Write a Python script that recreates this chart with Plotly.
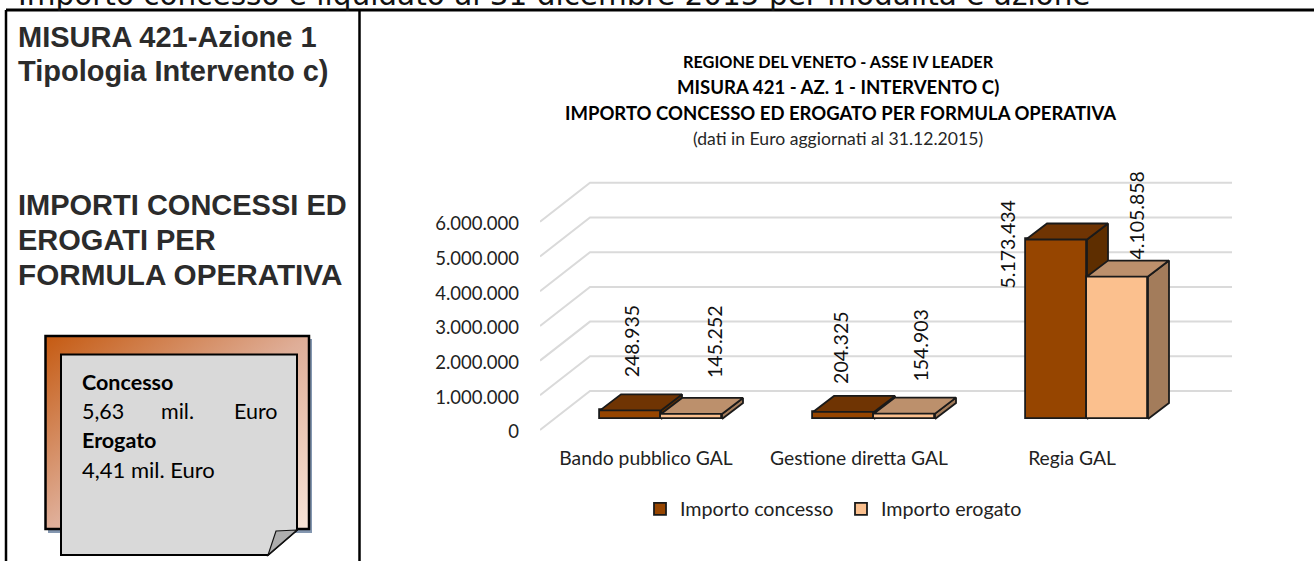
import urllib.parse
import plotly.graph_objects as go

# ---------- data ----------
categories = ["Bando pubblico GAL", "Gestione diretta GAL", "Regia GAL"]
series_names = ["Importo concesso", "Importo erogato"]
importo_concesso = [248935, 204325, 5173434]
importo_erogato = [145252, 154903, 4105858]
y_ticks = [0, 1000000, 2000000, 3000000, 4000000, 5000000, 6000000]
title_lines = [
    "REGIONE DEL VENETO - ASSE IV LEADER",
    "MISURA 421 - AZ. 1 - INTERVENTO C)",
    "IMPORTO CONCESSO ED EROGATO PER FORMULA OPERATIVA",
    "(dati in Euro aggiornati al 31.12.2015)",
]

# ---------- geometry of the fake-3D plot (pixels) ----------
W, H = 1314, 561
CHART_FONT = "Lato"
PLOT_L, PLOT_R, PLOT_T, PLOT_B = 540, 1240, 160, 440
CAT_X0, CAT_STEP = 661, 213          # pixel centre of the first cluster, spacing
ZERO_Y, PX_PER_M = 430, 34.7         # pixel of value 0, pixels per million
ux = 1 / CAT_STEP                    # x data units per pixel
uy = 1e6 / PX_PER_M                  # y data units per pixel
BAR_W = 61 * ux
BAR_BASE = 11 * uy                   # bars stand a little behind the front edge
BAR_DX, BAR_DY = 21 * ux, 16 * uy    # depth of a bar
WALL_DX, WALL_DY = 50 * ux, 39 * uy  # depth of the floor
WALL_END = (1232 - PLOT_L) * ux

x_range = [(PLOT_L - CAT_X0) * ux, (PLOT_R - CAT_X0) * ux]
y_range = [(ZERO_Y - PLOT_B) * uy, (ZERO_Y - PLOT_T) * uy]
x_left = x_range[0]

DARK = dict(front="#964500", top="#6F3403", side="#5E2E00")
LIGHT = dict(front="#FBC08E", top="#BC906C", side="#A37C5B")
EDGE = "#1a1a1a"
EDGE_W = 1.8
positions = list(range(len(categories)))

fig = go.Figure()


def px(x):
    return x / W


def py(y):
    return 1 - y / H


# floor / wall grid lines (main subplot, painted first)
for v in y_ticks:
    fig.add_trace(go.Scatter(
        x=[x_left, x_left + WALL_DX, x_left + WALL_END],
        y=[v, v + WALL_DY, v + WALL_DY],
        mode="lines", line=dict(color="#DADADA", width=2),
        hoverinfo="skip", showlegend=False))


def faces(values, offset_sign, colors, xa, ya):
    for p, v in zip(positions, values):
        x0 = p - BAR_W if offset_sign < 0 else p
        x1 = x0 + BAR_W
        y0 = BAR_BASE
        y1 = BAR_BASE + v
        fig.add_trace(go.Scatter(
            x=[x1, x1 + BAR_DX, x1 + BAR_DX, x1, x1],
            y=[y0, y0 + BAR_DY, y1 + BAR_DY, y1, y0],
            mode="lines", fill="toself", fillcolor=colors["side"],
            line=dict(color=EDGE, width=EDGE_W), hoverinfo="skip",
            showlegend=False, xaxis=xa, yaxis=ya))
        fig.add_trace(go.Scatter(
            x=[x0, x0 + BAR_DX, x1 + BAR_DX, x1, x0],
            y=[y1, y1 + BAR_DY, y1 + BAR_DY, y1, y1],
            mode="lines", fill="toself", fillcolor=colors["top"],
            line=dict(color=EDGE, width=EDGE_W), hoverinfo="skip",
            showlegend=False, xaxis=xa, yaxis=ya))


# each series sits in its own overlaying subplot so the paint order is
# grid -> first series -> second series
faces(importo_concesso, -1, DARK, "x2", "y2")
fig.add_trace(go.Bar(
    name=series_names[0], x=[p - BAR_W / 2 for p in positions], y=importo_concesso,
    base=BAR_BASE, width=BAR_W, marker=dict(color=DARK["front"], line=dict(color=EDGE, width=EDGE_W)),
    xaxis="x2", yaxis="y2"))

faces(importo_erogato, 1, LIGHT, "x3", "y3")
fig.add_trace(go.Bar(
    name=series_names[1], x=[p + BAR_W / 2 for p in positions], y=importo_erogato,
    base=BAR_BASE, width=BAR_W, marker=dict(color=LIGHT["front"], line=dict(color=EDGE, width=EDGE_W)),
    xaxis="x3", yaxis="y3"))

annotations = []


def note(text, x, y, size, color="#000000", bold=False, family=CHART_FONT, xanchor="left", yanchor="middle"):
    annotations.append(dict(
        text=f"<b>{text}</b>" if bold else text, x=px(x), y=py(y),
        xref="paper", yref="paper", xanchor=xanchor, yanchor=yanchor, showarrow=False,
        font=dict(family=family, size=size, color=color)))


# rotated value labels: pixel shift from the top of the front face of each bar
label_shift = [(0.5, 31), (23.5, 34), (-2.5, 26), (16.5, 30), (-49.5, -51), (19.5, 15)]
all_labels = [
    (p + s * BAR_W / 2, v)
    for p, a, b in zip(positions, importo_concesso, importo_erogato)
    for s, v in ((-1, a), (1, b))
]
for (xv, v), (dx, dy) in zip(all_labels, label_shift):
    annotations.append(dict(
        text=f"{v:,}".replace(",", "."), x=xv, y=BAR_BASE + v, xref="x", yref="y",
        xanchor="center", yanchor="bottom", textangle=-90, showarrow=False,
        xshift=dx, yshift=dy, font=dict(family=CHART_FONT, size=19.5, color="#111111")))

# chart titles
note(title_lines[0], 838, 62, 16.3, bold=True, xanchor="center")
note(title_lines[1], 838, 87, 18.6, bold=True, xanchor="center")
note(title_lines[2], 840, 113, 18.5, bold=True, xanchor="center")
note(title_lines[3], 838, 138, 17.6, color="#262626", xanchor="center")

# page heading and left panel text
note("Importo concesso e liquidato al 31 dicembre 2015 per modalità e azione", 16, -5, 29.5,
     family="DejaVu Sans", color="#111111")
ARIAL = "Liberation Sans"
for t, y, size in (("MISURA 421-Azione 1", 37, 29), ("Tipologia Intervento c)", 71, 29),
                   ("IMPORTI CONCESSI ED", 205, 29), ("EROGATI PER", 240, 29),
                   ("FORMULA OPERATIVA", 274, 29.7)):
    note(t, 16, y, size, color="#2b2b2b", bold=True, family=ARIAL)
note("Concesso", 80, 382, 21.5, bold=True)
note("5,63", 80, 411, 21.5)
note("mil.", 159, 411, 21.5)
note("Euro", 232, 411, 21.5)
note("Erogato", 80, 440, 21.5, bold=True)
note("4,41 mil. Euro", 80, 469, 22)

# decorations of the left panel
shapes = []


def line(x0, y0, x1, y1, width=2.5):
    shapes.append(dict(type="line", xref="paper", yref="paper", x0=px(x0), y0=py(y0), x1=px(x1), y1=py(y1),
                       line=dict(color="#000000", width=width)))


def poly(points, fill, edge=None, width=0):
    path = "M " + " L ".join(f"{px(x)},{py(y)}" for x, y in points) + " Z"
    shapes.append(dict(type="path", xref="paper", yref="paper", path=path, fillcolor=fill,
                       line=dict(color=edge or "rgba(0,0,0,0)", width=width)))


line(6, 10, W, 10, 3)
line(6, 10, 6, H)
line(359.5, 10, 359.5, H)

# shadow, gradient frame outline, page with folded corner
poly([(312, 339), (312, 533), (48, 533), (48, 529), (309, 529), (309, 339)], "#8497B0")
poly([(45.5, 336), (309, 336), (309, 529), (45.5, 529)], "rgba(0,0,0,0)", "#000000", 2.5)
poly([(61, 354.5), (297, 354.5), (297, 530), (268, 555), (61, 555)], "#D9D9D9", "#000000", 2)
poly([(297, 530), (276, 531), (268, 555)], "#AEAEAE", "#111111", 1.2)

svg = ("<svg xmlns='http://www.w3.org/2000/svg' width='264' height='193'>"
       "<defs><linearGradient id='g' x1='0' y1='0' x2='1' y2='1'>"
       "<stop offset='0' stop-color='#C55A11'/><stop offset='0.5' stop-color='#DFAE98'/>"
       "<stop offset='1' stop-color='#F8E5D8'/></linearGradient></defs>"
       "<rect width='264' height='193' fill='url(#g)'/></svg>")
images = [dict(source="data:image/svg+xml," + urllib.parse.quote(svg), xref="paper", yref="paper",
               x=px(45.5), y=py(336), sizex=264 / W, sizey=193 / H, sizing="stretch",
               xanchor="left", yanchor="top", layer="below")]

domain_x = [px(PLOT_L), px(PLOT_R)]
domain_y = [py(PLOT_B), py(PLOT_T)]
fig.update_layout(
    width=W, height=H, margin=dict(l=0, r=0, t=0, b=0, autoexpand=False),
    paper_bgcolor="white", plot_bgcolor="rgba(0,0,0,0)",
    separators=",.",
    bargap=0,
    hovermode=False,
    font=dict(family=CHART_FONT, color="#111111"),
    xaxis=dict(domain=domain_x, range=x_range, tickmode="array", automargin=False,
               tickvals=[p - 15 * ux for p in positions], ticktext=categories,
               showgrid=False, zeroline=False, showline=False, ticks="",
               ticklabelstandoff=5, tickfont=dict(size=19.3, family=CHART_FONT, color="#222222")),
    yaxis=dict(domain=domain_y, range=y_range, tickmode="array", tickvals=y_ticks, automargin=False,
               tickformat=",d", showgrid=False, zeroline=False, showline=False, ticks="",
               ticklabelstandoff=20, ticklabelshift=2,
               tickfont=dict(size=18.5, family=CHART_FONT, color="#222222")),
    xaxis2=dict(domain=domain_x, range=x_range, overlaying="x", visible=False),
    yaxis2=dict(domain=domain_y, range=y_range, overlaying="y", visible=False),
    xaxis3=dict(domain=domain_x, range=x_range, overlaying="x", visible=False),
    yaxis3=dict(domain=domain_y, range=y_range, overlaying="y", visible=False),
    legend=dict(orientation="h", x=px(640), y=py(509), xanchor="left", yanchor="middle",
                entrywidth=156, font=dict(size=19.7, family=CHART_FONT, color="#222222"),
                bgcolor="rgba(0,0,0,0)", traceorder="normal"),
    annotations=annotations, shapes=shapes, images=images,
)

fig.write_html("out.html", config=dict(displayModeBar=False),
               post_script="document.body.style.margin='0';document.body.style.overflow='hidden';")
